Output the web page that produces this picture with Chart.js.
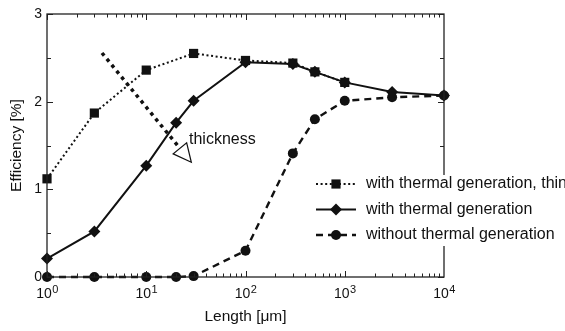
<!DOCTYPE html>
<html>
<head>
<meta charset="utf-8">
<script src="https://cdn.jsdelivr.net/npm/chart.js@4.4.1/dist/chart.umd.min.js"></script>
<style>
  html, body { margin: 0; padding: 0; background: #fff; }
</style>
</head>
<body>
<canvas id="line-chart" width="565" height="331"></canvas>
<script>
// lengths in um, efficiencies in %
const thinX = [1, 3, 10, 30, 100, 300, 500, 1000];
const thinY = [1.12, 1.87, 2.36, 2.55, 2.47, 2.44, 2.34, 2.22];

const withX = [1, 3, 10, 20, 30, 100, 300, 500, 1000, 3000, 10000];
const withY = [0.21, 0.52, 1.27, 1.76, 2.01, 2.45, 2.43, 2.34, 2.22, 2.11, 2.07];

const withoutX = [1, 3, 10, 20, 30, 100, 300, 500, 1000, 3000, 10000];
const withoutY = [0, 0, 0, 0, 0.01, 0.30, 1.41, 1.80, 2.01, 2.05, 2.07];

const seriesLabels = ["with thermal generation, thin", "with thermal generation", "without thermal generation"];
const xDecades = [1, 10, 100, 1000, 10000];
const xExponents = ["0", "1", "2", "3", "4"];
const yTicks = [0, 1, 2, 3];

// the "thickness" arrow, in data units
const arrowFrom = { x: 3.58, y: 2.555 };
const arrowTo = { x: 20.9, y: 1.494 };
const arrowText = "thickness";

const FONT = "'Liberation Sans', Arial, Helvetica, sans-serif";

function pts(xs, ys) {
  return xs.map((x, i) => ({ x: x, y: ys[i] }));
}

const styles = [
  { dash: [2, 2.6], width: 2, point: 'rect', radius: 6.5 },
  { dash: [], width: 2, point: 'rectRot', radius: 6 },
  { dash: [7, 5], width: 2.4, point: 'circle', radius: 5 }
];

function marker(ctx, style, x, y) {
  const r = style.radius;
  ctx.save();
  ctx.fillStyle = '#111';
  ctx.setLineDash([]);
  ctx.beginPath();
  if (style.point === 'rect') {
    const s = r * Math.SQRT1_2;
    ctx.rect(x - s, y - s, 2 * s, 2 * s);
  } else if (style.point === 'rectRot') {
    ctx.moveTo(x - r, y); ctx.lineTo(x, y - r); ctx.lineTo(x + r, y); ctx.lineTo(x, y + r);
    ctx.closePath();
  } else {
    ctx.arc(x, y, r, 0, Math.PI * 2);
  }
  ctx.fill();
  ctx.restore();
}

const framePlugin = {
  id: 'frame',
  afterDraw(chart) {
    const ctx = chart.ctx;
    const a = chart.chartArea;
    const xs = chart.scales.x, ys = chart.scales.y;
    ctx.save();
    ctx.strokeStyle = '#222';
    ctx.lineWidth = 1.3;
    ctx.setLineDash([]);
    ctx.strokeRect(a.left, a.top, a.right - a.left, a.bottom - a.top);

    // inward ticks, mirrored on top / right
    ctx.lineWidth = 1;
    ctx.beginPath();
    for (let d = 1; d < 10000; d *= 10) {
      for (let m = 1; m < 10; m++) {
        const px = Math.round(xs.getPixelForValue(d * m)) + 0.5;
        const len = m === 1 ? 6 : 3.5;
        ctx.moveTo(px, a.bottom); ctx.lineTo(px, a.bottom - len);
        ctx.moveTo(px, a.top); ctx.lineTo(px, a.top + len);
      }
    }
    for (let v = 0; v <= 3; v += 0.5) {
      const py = Math.round(ys.getPixelForValue(v)) + 0.5;
      const len = Number.isInteger(v) ? 6 : 4;
      ctx.moveTo(a.left, py); ctx.lineTo(a.left + len, py);
      ctx.moveTo(a.right, py); ctx.lineTo(a.right - len, py);
    }
    ctx.stroke();

    // x tick labels 10^n
    ctx.fillStyle = '#111';
    ctx.textBaseline = 'alphabetic';
    ctx.textAlign = 'left';
    xDecades.forEach((d, i) => {
      const px = xs.getPixelForValue(d);
      ctx.font = '14px ' + FONT;
      const w1 = ctx.measureText('10').width;
      ctx.font = '11px ' + FONT;
      const w2 = ctx.measureText(xExponents[i]).width;
      const x0 = px - (w1 + w2) / 2;
      ctx.font = '14px ' + FONT;
      ctx.fillText('10', x0, a.bottom + 21);
      ctx.font = '11px ' + FONT;
      ctx.fillText(xExponents[i], x0 + w1 + 0.5, a.bottom + 16);
    });

    // thickness arrow
    const x1 = xs.getPixelForValue(arrowFrom.x), y1 = ys.getPixelForValue(arrowFrom.y);
    const x2 = xs.getPixelForValue(arrowTo.x), y2 = ys.getPixelForValue(arrowTo.y);
    const L = Math.hypot(x2 - x1, y2 - y1);
    const ux = (x2 - x1) / L, uy = (y2 - y1) / L;
    ctx.strokeStyle = '#111';
    ctx.lineWidth = 3.5;
    ctx.setLineDash([3.5, 4.2]);
    ctx.beginPath();
    ctx.moveTo(x1, y1); ctx.lineTo(x2, y2);
    ctx.stroke();
    ctx.setLineDash([]);
    ctx.lineWidth = 1.2;
    const bx = x2 + ux * 3, by = y2 + uy * 3;
    const tx = x2 + ux * 21, ty = y2 + uy * 21;
    const hw = 8.7;
    ctx.beginPath();
    ctx.moveTo(bx - uy * hw, by + ux * hw);
    ctx.lineTo(tx, ty);
    ctx.lineTo(bx + uy * hw, by - ux * hw);
    ctx.closePath();
    ctx.stroke();
    ctx.font = '16px ' + FONT;
    ctx.fillText(arrowText, x2 + 11, y2 - 2);

    // legend
    const lx = 316, lw = 40, tx0 = 366;
    const rows = [184, 209.5, 235];
    ctx.fillStyle = '#fff';
    ctx.fillRect(306, 175, 565 - 306, 71);
    chart.data.datasets.forEach((ds, i) => {
      const st = styles[i];
      const y = rows[i];
      ctx.strokeStyle = '#111';
      ctx.lineWidth = st.width;
      ctx.setLineDash(st.dash);
      ctx.beginPath();
      ctx.moveTo(lx, y); ctx.lineTo(lx + lw, y);
      ctx.stroke();
      marker(ctx, st, lx + lw / 2, y);
      ctx.fillStyle = '#111';
      ctx.font = '16px ' + FONT;
      ctx.textBaseline = 'middle';
      ctx.fillText(ds.label, tx0, y);
    });
    ctx.restore();
  }
};

new Chart(document.getElementById("line-chart"), {
  type: 'line',
  data: {
    datasets: [
      { label: seriesLabels[0], data: pts(thinX, thinY), order: 3 },
      { label: seriesLabels[1], data: pts(withX, withY), order: 2 },
      { label: seriesLabels[2], data: pts(withoutX, withoutY), order: 1 }
    ].map((ds, i) => Object.assign(ds, {
      borderColor: '#111',
      backgroundColor: '#111',
      borderWidth: styles[i].width,
      borderDash: styles[i].dash,
      pointStyle: styles[i].point,
      pointRadius: styles[i].radius,
      pointBorderWidth: 0,
      pointBackgroundColor: '#111',
      tension: 0,
      fill: false,
      clip: false
    }))
  },
  options: {
    responsive: false,
    animation: false,
    devicePixelRatio: 1,
    layout: { padding: { left: 0, top: 14, right: 121, bottom: 0 } },
    plugins: { legend: { display: false }, tooltip: { enabled: false } },
    scales: {
      x: {
        type: 'logarithmic',
        min: 1,
        max: 10000,
        grid: { display: false },
        border: { display: false },
        ticks: { display: false },
        title: {
          display: true, text: 'Length [μm]', color: '#111',
          font: { family: FONT, size: 15.5 }, padding: { top: 0, bottom: 5 }
        },
        afterFit(scale) { scale.height = 54; }
      },
      y: {
        type: 'linear',
        min: 0,
        max: 3,
        grid: { display: false, drawTicks: false },
        border: { display: false },
        ticks: {
          stepSize: 1,
          padding: 5,
          color: '#111',
          font: { family: FONT, size: 14 },
          callback: (v) => yTicks.includes(v) ? String(v) : ''
        },
        title: {
          display: true, text: 'Efficiency [%]', color: '#111',
          font: { family: FONT, size: 15.5 }, padding: { top: 7, bottom: 0 }
        },
        afterFit(scale) { scale.width = 47; }
      }
    }
  },
  plugins: [framePlugin]
});
</script>
</body>
</html>
